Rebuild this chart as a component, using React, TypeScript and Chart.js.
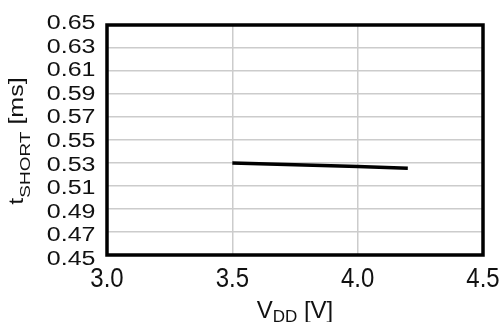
import React, { useEffect, useRef } from 'react';
import { Chart, registerables } from 'chart.js';

Chart.register(...registerables);

// ---- data ----
const vddValues = [3.5, 4.0, 4.2];
const tShortValues = [0.53, 0.527, 0.5255];

const xTickValues = [3.0, 3.5, 4.0, 4.5];
const xTickLabels = ['3.0', '3.5', '4.0', '4.5'];
const yTickValues = [0.45, 0.47, 0.49, 0.51, 0.53, 0.55, 0.57, 0.59, 0.61, 0.63, 0.65];
const yTickLabels = ['0.45', '0.47', '0.49', '0.51', '0.53', '0.55', '0.57', '0.59', '0.61', '0.63', '0.65'];

const xTitleMain = 'V';
const xTitleSub = 'DD';
const xTitleRest = ' [V]';
const yTitleMain = 't';
const yTitleSub = 'SHORT';
const yTitleRest = ' [ms]';

const FONT = "'Liberation Sans', Arial, sans-serif";
const TEXT_COLOR = '#111111';

const textPlugin = {
  id: 'customText',
  afterDraw(chart: any) {
    const ctx: CanvasRenderingContext2D = chart.ctx;
    const area = chart.chartArea;
    const xs = chart.scales.x;
    const ys = chart.scales.y;

    // plot border
    ctx.save();
    ctx.strokeStyle = '#000000';
    ctx.lineWidth = 3.5;
    ctx.strokeRect(area.left, area.top, area.right - area.left, area.bottom - area.top);
    ctx.restore();

    ctx.save();
    ctx.fillStyle = TEXT_COLOR;

    // y tick labels (slightly compressed vertically, slightly wider spacing than gridlines)
    ctx.font = `25px ${FONT}`;
    ctx.textAlign = 'right';
    ctx.textBaseline = 'alphabetic';
    const spread = 23.6 / 23;
    yTickValues.forEach((v, i) => {
      const y = ys.getPixelForValue(v);
      const cyLabel = area.top - 3.6 + (y - area.top) * spread;
      ctx.save();
      ctx.translate(area.left - 11.5, cyLabel + 7.5);
      ctx.scale(1, 0.83);
      ctx.fillText(yTickLabels[i], 0, 0);
      ctx.restore();
    });

    // x tick labels (slightly stretched vertically)
    ctx.font = `24px ${FONT}`;
    ctx.textAlign = 'center';
    xTickValues.forEach((v, i) => {
      const x = xs.getPixelForValue(v);
      ctx.save();
      ctx.translate(x, area.bottom + 31.5);
      ctx.scale(1, 1.12);
      ctx.fillText(xTickLabels[i], 0, 0);
      ctx.restore();
    });

    // x title with subscript
    ctx.textAlign = 'left';
    const mainX = `24px ${FONT}`;
    const subX = `17px ${FONT}`;
    ctx.font = mainX;
    const w1 = ctx.measureText(xTitleMain).width;
    const w3 = ctx.measureText(xTitleRest).width;
    ctx.font = subX;
    const w2 = ctx.measureText(xTitleSub).width;
    const totalX = w1 + w2 + w3;
    const cx = (area.left + area.right) / 2;
    let px = cx - totalX / 2;
    const baseX = 318;
    ctx.font = mainX;
    ctx.fillText(xTitleMain, px, baseX);
    px += w1;
    ctx.font = subX;
    ctx.fillText(xTitleSub, px, baseX + 3.5);
    px += w2;
    ctx.font = mainX;
    ctx.fillText(xTitleRest, px, baseX);

    // y title with subscript (rotated)
    const mainY = `25px ${FONT}`;
    const subY = `19px ${FONT}`;
    ctx.font = mainY;
    const v1 = ctx.measureText(yTitleMain).width;
    const v3 = ctx.measureText(yTitleRest).width;
    ctx.font = subY;
    const v2 = ctx.measureText(yTitleSub).width;
    const totalY = v1 + v2 + v3;
    const cy = (area.top + area.bottom) / 2 + 1;
    ctx.save();
    ctx.translate(23, cy);
    ctx.rotate(-Math.PI / 2);
    ctx.scale(1, 0.78);
    let py = -totalY / 2;
    ctx.font = mainY;
    ctx.fillText(yTitleMain, py, 0);
    py += v1;
    ctx.font = subY;
    ctx.fillText(yTitleSub, py, 7 / 0.78);
    py += v2;
    ctx.font = mainY;
    ctx.fillText(yTitleRest, py, 0);
    ctx.restore();

    ctx.restore();
  },
};

export default function App() {
  const canvasRef = useRef<HTMLCanvasElement | null>(null);

  useEffect(() => {
    const canvas = canvasRef.current;
    if (!canvas) return;
    const data = vddValues.map((x, i) => ({ x, y: tShortValues[i] }));
    const chart = new Chart(canvas, {
      type: 'line',
      data: {
        datasets: [
          {
            data,
            borderColor: '#000000',
            borderWidth: 3.5,
            pointRadius: 0,
            tension: 0,
            fill: false,
          },
        ],
      },
      options: {
        responsive: false,
        animation: false,
        layout: { padding: { top: 25, right: 20, left: 0, bottom: 0 } },
        plugins: {
          legend: { display: false },
          tooltip: { enabled: false },
        },
        scales: {
          x: {
            type: 'linear',
            min: 3.0,
            max: 4.5,
            afterBuildTicks: (scale: any) => {
              scale.ticks = xTickValues.map((v) => ({ value: v }));
            },
            afterFit: (scale: any) => {
              scale.height = 67;
            },
            ticks: { display: false },
            grid: { color: '#cccccc', lineWidth: 1.5, drawTicks: false },
            border: { display: false },
          },
          y: {
            type: 'linear',
            min: 0.45,
            max: 0.65,
            afterBuildTicks: (scale: any) => {
              scale.ticks = yTickValues.map((v) => ({ value: v }));
            },
            afterFit: (scale: any) => {
              scale.width = 107;
            },
            ticks: { display: false },
            grid: { color: '#cccccc', lineWidth: 1.5, drawTicks: false },
            border: { display: false },
          },
        },
      },
      plugins: [textPlugin],
    });
    return () => chart.destroy();
  }, []);

  return (
    <div style={{ position: 'fixed', left: 0, top: 0, width: 503, height: 322, background: '#ffffff' }}>
      <canvas ref={canvasRef} width={503} height={322} style={{ display: 'block' }} />
    </div>
  );
}
